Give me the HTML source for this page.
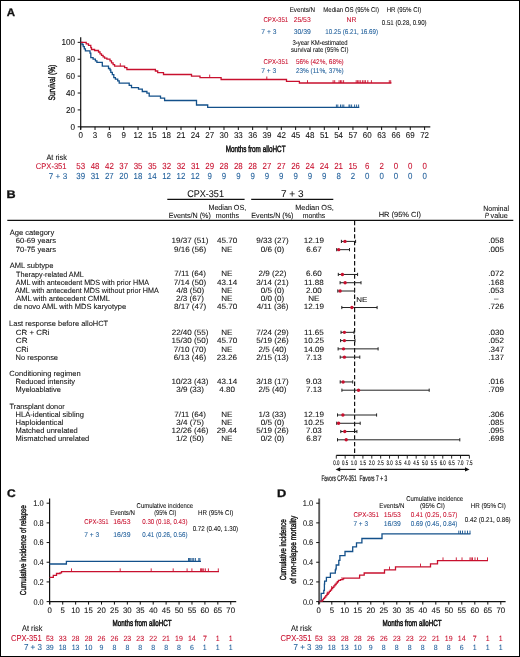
<!DOCTYPE html>
<html><head><meta charset="utf-8"><style>
html,body{margin:0;padding:0;background:#fff;}
#fig{position:relative;width:520px;height:657px;box-sizing:border-box;border:1px solid #000;background:#fff;overflow:hidden;}
svg{position:absolute;left:-1px;top:-1px;will-change:transform;}
text{font-family:"Liberation Sans",sans-serif;stroke-width:0.08px;text-rendering:geometricPrecision;}
</style></head><body><div id="fig">
<svg width="520" height="657" viewBox="0 0 520 657">
<text x="6.81" y="16.1" font-size="11" fill="#111" stroke="#111" textLength="8.3" lengthAdjust="spacingAndGlyphs" font-weight="bold" style="stroke-width:0.3px">A</text>
<text x="289.7" y="12.3" font-size="7.01" fill="#111" stroke="#111" textLength="25.42" lengthAdjust="spacingAndGlyphs">Events/N</text>
<text x="323.32" y="12.3" font-size="7.01" fill="#111" stroke="#111" textLength="55.75" lengthAdjust="spacingAndGlyphs">Median OS (95% CI)</text>
<text x="386.71" y="12.2" font-size="7.01" fill="#111" stroke="#111" textLength="34.67" lengthAdjust="spacingAndGlyphs">HR (95% CI)</text>
<text x="263.39" y="21.8" font-size="7.01" fill="#c8102e" stroke="#c8102e" textLength="24.9" lengthAdjust="spacingAndGlyphs">CPX-351</text>
<text x="293.66" y="21.8" font-size="7.01" fill="#c8102e" stroke="#c8102e" textLength="17.03" lengthAdjust="spacingAndGlyphs">25/53</text>
<text x="346.45" y="21.8" font-size="7.01" fill="#c8102e" stroke="#c8102e" textLength="9.89" lengthAdjust="spacingAndGlyphs">NR</text>
<text x="381.86" y="25.1" font-size="7.01" fill="#111" stroke="#111" textLength="44.73" lengthAdjust="spacingAndGlyphs">0.51 (0.28, 0.90)</text>
<text x="261.36" y="34.3" font-size="7.01" fill="#23619c" stroke="#23619c" textLength="15.12" lengthAdjust="spacingAndGlyphs">7 + 3</text>
<text x="293.73" y="34.3" font-size="7.01" fill="#23619c" stroke="#23619c" textLength="17.2" lengthAdjust="spacingAndGlyphs">30/39</text>
<text x="325.33" y="34.3" font-size="7.01" fill="#23619c" stroke="#23619c" textLength="52.75" lengthAdjust="spacingAndGlyphs">10.25 (6.21, 16.69)</text>
<text x="292.46" y="45.1" font-size="7.01" fill="#111" stroke="#111" textLength="55.03" lengthAdjust="spacingAndGlyphs">3-year KM-estimated</text>
<text x="291.12" y="51.8" font-size="7.01" fill="#111" stroke="#111" textLength="57.26" lengthAdjust="spacingAndGlyphs">survival rate (95% CI)</text>
<text x="263.49" y="64.3" font-size="7.01" fill="#c8102e" stroke="#c8102e" textLength="24.8" lengthAdjust="spacingAndGlyphs">CPX-351</text>
<text x="295.95" y="64.3" font-size="7.01" fill="#c8102e" stroke="#c8102e" textLength="47.76" lengthAdjust="spacingAndGlyphs">56% (42%, 68%)</text>
<text x="261.16" y="72.6" font-size="7.01" fill="#23619c" stroke="#23619c" textLength="15.12" lengthAdjust="spacingAndGlyphs">7 + 3</text>
<text x="295.88" y="72.6" font-size="7.01" fill="#23619c" stroke="#23619c" textLength="47.84" lengthAdjust="spacingAndGlyphs">23% (11%, 37%)</text>
<line x1="80.7" y1="37.3" x2="80.7" y2="129.6" stroke="#111" stroke-width="1.2"/>
<line x1="80.1" y1="126.8" x2="430.3" y2="126.8" stroke="#111" stroke-width="1.2"/>
<line x1="77.7" y1="126.8" x2="80.7" y2="126.8" stroke="#111" stroke-width="1"/>
<text x="70.56" y="129.8" font-size="8.6" fill="#111" stroke="#111" textLength="4.53" lengthAdjust="spacingAndGlyphs">0</text>
<line x1="77.7" y1="109.91" x2="80.7" y2="109.91" stroke="#111" stroke-width="1"/>
<text x="66.04" y="112.91" font-size="8.6" fill="#111" stroke="#111" textLength="9.07" lengthAdjust="spacingAndGlyphs">20</text>
<line x1="77.7" y1="93.02" x2="80.7" y2="93.02" stroke="#111" stroke-width="1"/>
<text x="66.04" y="96.02" font-size="8.6" fill="#111" stroke="#111" textLength="9.07" lengthAdjust="spacingAndGlyphs">40</text>
<line x1="77.7" y1="76.13" x2="80.7" y2="76.13" stroke="#111" stroke-width="1"/>
<text x="66.04" y="79.13" font-size="8.6" fill="#111" stroke="#111" textLength="9.07" lengthAdjust="spacingAndGlyphs">60</text>
<line x1="77.7" y1="59.24" x2="80.7" y2="59.24" stroke="#111" stroke-width="1"/>
<text x="66.04" y="62.24" font-size="8.6" fill="#111" stroke="#111" textLength="9.07" lengthAdjust="spacingAndGlyphs">80</text>
<line x1="77.7" y1="42.35" x2="80.7" y2="42.35" stroke="#111" stroke-width="1"/>
<text x="61.52" y="45.35" font-size="8.6" fill="#111" stroke="#111" textLength="13.6" lengthAdjust="spacingAndGlyphs">100</text>
<line x1="80.7" y1="126.8" x2="80.7" y2="130" stroke="#111" stroke-width="1"/>
<text x="78.46" y="138.4" font-size="8.5" fill="#111" stroke="#111" textLength="4.45" lengthAdjust="spacingAndGlyphs">0</text>
<line x1="95.03" y1="126.8" x2="95.03" y2="130" stroke="#111" stroke-width="1"/>
<text x="92.81" y="138.4" font-size="8.5" fill="#111" stroke="#111" textLength="4.45" lengthAdjust="spacingAndGlyphs">3</text>
<line x1="109.36" y1="126.8" x2="109.36" y2="130" stroke="#111" stroke-width="1"/>
<text x="107.1" y="138.4" font-size="8.5" fill="#111" stroke="#111" textLength="4.45" lengthAdjust="spacingAndGlyphs">6</text>
<line x1="123.69" y1="126.8" x2="123.69" y2="130" stroke="#111" stroke-width="1"/>
<text x="121.47" y="138.4" font-size="8.5" fill="#111" stroke="#111" textLength="4.45" lengthAdjust="spacingAndGlyphs">9</text>
<line x1="138.02" y1="126.8" x2="138.02" y2="130" stroke="#111" stroke-width="1"/>
<text x="133.48" y="138.4" font-size="8.5" fill="#111" stroke="#111" textLength="8.9" lengthAdjust="spacingAndGlyphs">12</text>
<line x1="152.35" y1="126.8" x2="152.35" y2="130" stroke="#111" stroke-width="1"/>
<text x="147.77" y="138.4" font-size="8.5" fill="#111" stroke="#111" textLength="8.9" lengthAdjust="spacingAndGlyphs">15</text>
<line x1="166.68" y1="126.8" x2="166.68" y2="130" stroke="#111" stroke-width="1"/>
<text x="162.1" y="138.4" font-size="8.5" fill="#111" stroke="#111" textLength="8.9" lengthAdjust="spacingAndGlyphs">18</text>
<line x1="181" y1="126.8" x2="181" y2="130" stroke="#111" stroke-width="1"/>
<text x="176.54" y="138.4" font-size="8.5" fill="#111" stroke="#111" textLength="8.9" lengthAdjust="spacingAndGlyphs">21</text>
<line x1="195.33" y1="126.8" x2="195.33" y2="130" stroke="#111" stroke-width="1"/>
<text x="190.81" y="138.4" font-size="8.5" fill="#111" stroke="#111" textLength="8.9" lengthAdjust="spacingAndGlyphs">24</text>
<line x1="209.66" y1="126.8" x2="209.66" y2="130" stroke="#111" stroke-width="1"/>
<text x="205.22" y="138.4" font-size="8.5" fill="#111" stroke="#111" textLength="8.9" lengthAdjust="spacingAndGlyphs">27</text>
<line x1="223.99" y1="126.8" x2="223.99" y2="130" stroke="#111" stroke-width="1"/>
<text x="219.53" y="138.4" font-size="8.5" fill="#111" stroke="#111" textLength="8.9" lengthAdjust="spacingAndGlyphs">30</text>
<line x1="238.32" y1="126.8" x2="238.32" y2="130" stroke="#111" stroke-width="1"/>
<text x="233.88" y="138.4" font-size="8.5" fill="#111" stroke="#111" textLength="8.9" lengthAdjust="spacingAndGlyphs">33</text>
<line x1="252.65" y1="126.8" x2="252.65" y2="130" stroke="#111" stroke-width="1"/>
<text x="248.21" y="138.4" font-size="8.5" fill="#111" stroke="#111" textLength="8.9" lengthAdjust="spacingAndGlyphs">36</text>
<line x1="266.98" y1="126.8" x2="266.98" y2="130" stroke="#111" stroke-width="1"/>
<text x="262.56" y="138.4" font-size="8.5" fill="#111" stroke="#111" textLength="8.9" lengthAdjust="spacingAndGlyphs">39</text>
<line x1="281.31" y1="126.8" x2="281.31" y2="130" stroke="#111" stroke-width="1"/>
<text x="276.99" y="138.4" font-size="8.5" fill="#111" stroke="#111" textLength="8.9" lengthAdjust="spacingAndGlyphs">42</text>
<line x1="295.64" y1="126.8" x2="295.64" y2="130" stroke="#111" stroke-width="1"/>
<text x="291.28" y="138.4" font-size="8.5" fill="#111" stroke="#111" textLength="8.9" lengthAdjust="spacingAndGlyphs">45</text>
<line x1="309.97" y1="126.8" x2="309.97" y2="130" stroke="#111" stroke-width="1"/>
<text x="305.61" y="138.4" font-size="8.5" fill="#111" stroke="#111" textLength="8.9" lengthAdjust="spacingAndGlyphs">48</text>
<line x1="324.3" y1="126.8" x2="324.3" y2="130" stroke="#111" stroke-width="1"/>
<text x="319.88" y="138.4" font-size="8.5" fill="#111" stroke="#111" textLength="8.9" lengthAdjust="spacingAndGlyphs">51</text>
<line x1="338.62" y1="126.8" x2="338.62" y2="130" stroke="#111" stroke-width="1"/>
<text x="334.14" y="138.4" font-size="8.5" fill="#111" stroke="#111" textLength="8.9" lengthAdjust="spacingAndGlyphs">54</text>
<line x1="352.95" y1="126.8" x2="352.95" y2="130" stroke="#111" stroke-width="1"/>
<text x="348.55" y="138.4" font-size="8.5" fill="#111" stroke="#111" textLength="8.9" lengthAdjust="spacingAndGlyphs">57</text>
<line x1="367.28" y1="126.8" x2="367.28" y2="130" stroke="#111" stroke-width="1"/>
<text x="362.78" y="138.4" font-size="8.5" fill="#111" stroke="#111" textLength="8.9" lengthAdjust="spacingAndGlyphs">60</text>
<line x1="381.61" y1="126.8" x2="381.61" y2="130" stroke="#111" stroke-width="1"/>
<text x="377.13" y="138.4" font-size="8.5" fill="#111" stroke="#111" textLength="8.9" lengthAdjust="spacingAndGlyphs">63</text>
<line x1="395.94" y1="126.8" x2="395.94" y2="130" stroke="#111" stroke-width="1"/>
<text x="391.46" y="138.4" font-size="8.5" fill="#111" stroke="#111" textLength="8.9" lengthAdjust="spacingAndGlyphs">66</text>
<line x1="410.27" y1="126.8" x2="410.27" y2="130" stroke="#111" stroke-width="1"/>
<text x="405.81" y="138.4" font-size="8.5" fill="#111" stroke="#111" textLength="8.9" lengthAdjust="spacingAndGlyphs">69</text>
<line x1="424.6" y1="126.8" x2="424.6" y2="130" stroke="#111" stroke-width="1"/>
<text x="420.16" y="138.4" font-size="8.5" fill="#111" stroke="#111" textLength="8.9" lengthAdjust="spacingAndGlyphs">72</text>
<text x="225.69" y="152.1" font-size="9" fill="#111" stroke="#111" textLength="59.85" lengthAdjust="spacingAndGlyphs" style="stroke-width:0.5px">Months from alloHCT</text>
<text transform="translate(54.9 82.6) rotate(-90)" x="-17.8" y="0" font-size="9.4" fill="#111" stroke="#111" style="stroke-width:0.4px" textLength="35.73" lengthAdjust="spacingAndGlyphs">Survival (%)</text>
<path d="M80.7,42.3H82V44.5H83.2V46.7H84.3V48.8H85.4V50.8H90V53.1H90.8V57.7H93.1V59.2H95.4V60.8H96.9V62.3H102.3V66.2H108.5V68.5H110V70H110.8V72.3H112.3V74.6H113.8V77.7H115.4V79.2H117.7V80.8H119.2V83.1H129.2V85.4H131.5V87.7H138.5V89.2H142.3V91.5H146.9V93.1H149.2V96.2H160.5V98.1H164.6V100.5H196.5V105H207.7V107.3H359.3" fill="none" stroke="#13508a" stroke-width="1.3"/>
<path d="M80.7,42.3H86.2V43.8H88.5V45.4H90.8V47.7H91.5V49.5H94.6V50.5H98.5V52H100V53.8H101.5V55.4H103.1V56.9H104.6V58.2H106.9V59.2H110V60.8H111.5V62.8H113.1V64.6H114.6V66.2H124.6V67.7H126.9V69.5H155.4V71H157.7V72.7H163.5V74.5H191.5V76.1H200V77.6H221.1V79.5H286.5V81.3H299.4V83H391.4" fill="none" stroke="#c8102e" stroke-width="1.3"/>
<path d="M120.3,66.2V63.2" fill="none" stroke="#c8102e" stroke-width="0.9"/>
<path d="M209.7,77.6V74.6" fill="none" stroke="#c8102e" stroke-width="0.9"/>
<path d="M266.8,79.5V76.5" fill="none" stroke="#c8102e" stroke-width="0.9"/>
<path d="M307.5,83V80.2M333.1,83V80.2M334.7,83V80.2M339.1,83V80.2M340.5,83V80.2M341.8,83V80.2M343.6,83V80.2M356.2,83V80.2M357.6,83V80.2M358.9,83V80.2M360.3,83V80.2M362.4,83V80.2M364,83V80.2M365.4,83V80.2M367.8,83V80.2M371.4,83V80.2M389.3,83V80.2M390.7,83V80.2" fill="none" stroke="#c8102e" stroke-width="0.9"/>
<path d="M336.4,107.3V104.5M337.8,107.3V104.5M340.5,107.3V104.5M342.2,107.3V104.5M343.8,107.3V104.5M349,107.3V104.5M349.9,107.3V104.5M351.6,107.3V104.5M354.6,107.3V104.5M356.6,107.3V104.5M358.6,107.3V104.5" fill="none" stroke="#13508a" stroke-width="0.9"/>
<text x="46.4" y="159.8" font-size="8.06" fill="#111" stroke="#111" textLength="20.48" lengthAdjust="spacingAndGlyphs">At risk</text>
<text x="35.82" y="169.3" font-size="8.36" fill="#c8102e" stroke="#c8102e" textLength="30.74" lengthAdjust="spacingAndGlyphs">CPX-351</text>
<text x="48.79" y="178.6" font-size="8.36" fill="#23619c" stroke="#23619c" textLength="18.45" lengthAdjust="spacingAndGlyphs">7 + 3</text>
<text x="76.32" y="169" font-size="8.85" fill="#c8102e" stroke="#c8102e" textLength="8.79" lengthAdjust="spacingAndGlyphs">53</text>
<text x="76.34" y="178.8" font-size="8.85" fill="#23619c" stroke="#23619c" textLength="8.79" lengthAdjust="spacingAndGlyphs">39</text>
<text x="90.72" y="169" font-size="8.85" fill="#c8102e" stroke="#c8102e" textLength="8.79" lengthAdjust="spacingAndGlyphs">48</text>
<text x="90.66" y="178.8" font-size="8.85" fill="#23619c" stroke="#23619c" textLength="8.79" lengthAdjust="spacingAndGlyphs">31</text>
<text x="105.09" y="169" font-size="8.85" fill="#c8102e" stroke="#c8102e" textLength="8.79" lengthAdjust="spacingAndGlyphs">42</text>
<text x="104.97" y="178.8" font-size="8.85" fill="#23619c" stroke="#23619c" textLength="8.79" lengthAdjust="spacingAndGlyphs">27</text>
<text x="119.34" y="169" font-size="8.85" fill="#c8102e" stroke="#c8102e" textLength="8.79" lengthAdjust="spacingAndGlyphs">37</text>
<text x="119.24" y="178.8" font-size="8.85" fill="#23619c" stroke="#23619c" textLength="8.79" lengthAdjust="spacingAndGlyphs">20</text>
<text x="133.63" y="169" font-size="8.85" fill="#c8102e" stroke="#c8102e" textLength="8.79" lengthAdjust="spacingAndGlyphs">35</text>
<text x="133.49" y="178.8" font-size="8.85" fill="#23619c" stroke="#23619c" textLength="8.79" lengthAdjust="spacingAndGlyphs">18</text>
<text x="147.96" y="169" font-size="8.85" fill="#c8102e" stroke="#c8102e" textLength="8.79" lengthAdjust="spacingAndGlyphs">35</text>
<text x="147.78" y="178.8" font-size="8.85" fill="#23619c" stroke="#23619c" textLength="8.79" lengthAdjust="spacingAndGlyphs">14</text>
<text x="162.33" y="169" font-size="8.85" fill="#c8102e" stroke="#c8102e" textLength="8.79" lengthAdjust="spacingAndGlyphs">32</text>
<text x="162.19" y="178.8" font-size="8.85" fill="#23619c" stroke="#23619c" textLength="8.79" lengthAdjust="spacingAndGlyphs">12</text>
<text x="176.66" y="169" font-size="8.85" fill="#c8102e" stroke="#c8102e" textLength="8.79" lengthAdjust="spacingAndGlyphs">32</text>
<text x="176.52" y="178.8" font-size="8.85" fill="#23619c" stroke="#23619c" textLength="8.79" lengthAdjust="spacingAndGlyphs">12</text>
<text x="190.97" y="169" font-size="8.85" fill="#c8102e" stroke="#c8102e" textLength="8.79" lengthAdjust="spacingAndGlyphs">31</text>
<text x="190.85" y="178.8" font-size="8.85" fill="#23619c" stroke="#23619c" textLength="8.79" lengthAdjust="spacingAndGlyphs">12</text>
<text x="205.26" y="169" font-size="8.85" fill="#c8102e" stroke="#c8102e" textLength="8.79" lengthAdjust="spacingAndGlyphs">29</text>
<text x="207.47" y="178.8" font-size="8.85" fill="#23619c" stroke="#23619c" textLength="4.39" lengthAdjust="spacingAndGlyphs">9</text>
<text x="219.57" y="169" font-size="8.85" fill="#c8102e" stroke="#c8102e" textLength="8.79" lengthAdjust="spacingAndGlyphs">28</text>
<text x="221.8" y="178.8" font-size="8.85" fill="#23619c" stroke="#23619c" textLength="4.39" lengthAdjust="spacingAndGlyphs">9</text>
<text x="233.9" y="169" font-size="8.85" fill="#c8102e" stroke="#c8102e" textLength="8.79" lengthAdjust="spacingAndGlyphs">28</text>
<text x="236.13" y="178.8" font-size="8.85" fill="#23619c" stroke="#23619c" textLength="4.39" lengthAdjust="spacingAndGlyphs">9</text>
<text x="248.23" y="169" font-size="8.85" fill="#c8102e" stroke="#c8102e" textLength="8.79" lengthAdjust="spacingAndGlyphs">28</text>
<text x="250.46" y="178.8" font-size="8.85" fill="#23619c" stroke="#23619c" textLength="4.39" lengthAdjust="spacingAndGlyphs">9</text>
<text x="262.59" y="169" font-size="8.85" fill="#c8102e" stroke="#c8102e" textLength="8.79" lengthAdjust="spacingAndGlyphs">27</text>
<text x="264.79" y="178.8" font-size="8.85" fill="#23619c" stroke="#23619c" textLength="4.39" lengthAdjust="spacingAndGlyphs">9</text>
<text x="276.92" y="169" font-size="8.85" fill="#c8102e" stroke="#c8102e" textLength="8.79" lengthAdjust="spacingAndGlyphs">27</text>
<text x="279.12" y="178.8" font-size="8.85" fill="#23619c" stroke="#23619c" textLength="4.39" lengthAdjust="spacingAndGlyphs">9</text>
<text x="291.21" y="169" font-size="8.85" fill="#c8102e" stroke="#c8102e" textLength="8.79" lengthAdjust="spacingAndGlyphs">26</text>
<text x="293.45" y="178.8" font-size="8.85" fill="#23619c" stroke="#23619c" textLength="4.39" lengthAdjust="spacingAndGlyphs">9</text>
<text x="305.5" y="169" font-size="8.85" fill="#c8102e" stroke="#c8102e" textLength="8.79" lengthAdjust="spacingAndGlyphs">24</text>
<text x="307.77" y="178.8" font-size="8.85" fill="#23619c" stroke="#23619c" textLength="4.39" lengthAdjust="spacingAndGlyphs">9</text>
<text x="319.83" y="169" font-size="8.85" fill="#c8102e" stroke="#c8102e" textLength="8.79" lengthAdjust="spacingAndGlyphs">24</text>
<text x="322.1" y="178.8" font-size="8.85" fill="#23619c" stroke="#23619c" textLength="4.39" lengthAdjust="spacingAndGlyphs">9</text>
<text x="334.22" y="169" font-size="8.85" fill="#c8102e" stroke="#c8102e" textLength="8.79" lengthAdjust="spacingAndGlyphs">21</text>
<text x="336.41" y="178.8" font-size="8.85" fill="#23619c" stroke="#23619c" textLength="4.39" lengthAdjust="spacingAndGlyphs">8</text>
<text x="348.43" y="169" font-size="8.85" fill="#c8102e" stroke="#c8102e" textLength="8.79" lengthAdjust="spacingAndGlyphs">15</text>
<text x="350.76" y="178.8" font-size="8.85" fill="#23619c" stroke="#23619c" textLength="4.39" lengthAdjust="spacingAndGlyphs">2</text>
<text x="365.05" y="169" font-size="8.85" fill="#c8102e" stroke="#c8102e" textLength="4.39" lengthAdjust="spacingAndGlyphs">6</text>
<text x="365.07" y="178.8" font-size="8.85" fill="#23619c" stroke="#23619c" textLength="4.39" lengthAdjust="spacingAndGlyphs">0</text>
<text x="379.42" y="169" font-size="8.85" fill="#c8102e" stroke="#c8102e" textLength="4.39" lengthAdjust="spacingAndGlyphs">2</text>
<text x="379.4" y="178.8" font-size="8.85" fill="#23619c" stroke="#23619c" textLength="4.39" lengthAdjust="spacingAndGlyphs">0</text>
<text x="393.73" y="169" font-size="8.85" fill="#c8102e" stroke="#c8102e" textLength="4.39" lengthAdjust="spacingAndGlyphs">0</text>
<text x="393.73" y="178.8" font-size="8.85" fill="#23619c" stroke="#23619c" textLength="4.39" lengthAdjust="spacingAndGlyphs">0</text>
<text x="408.06" y="169" font-size="8.85" fill="#c8102e" stroke="#c8102e" textLength="4.39" lengthAdjust="spacingAndGlyphs">0</text>
<text x="408.06" y="178.8" font-size="8.85" fill="#23619c" stroke="#23619c" textLength="4.39" lengthAdjust="spacingAndGlyphs">0</text>
<text x="422.39" y="169" font-size="8.85" fill="#c8102e" stroke="#c8102e" textLength="4.39" lengthAdjust="spacingAndGlyphs">0</text>
<text x="422.39" y="178.8" font-size="8.85" fill="#23619c" stroke="#23619c" textLength="4.39" lengthAdjust="spacingAndGlyphs">0</text>
<text x="6.48" y="197.7" font-size="11" fill="#111" stroke="#111" textLength="9.12" lengthAdjust="spacingAndGlyphs" font-weight="bold" style="stroke-width:0.3px">B</text>
<text x="187.15" y="196.9" font-size="9.72" fill="#111" stroke="#111" textLength="36.79" lengthAdjust="spacingAndGlyphs">CPX-351</text>
<text x="281" y="196.9" font-size="9.72" fill="#111" stroke="#111" textLength="22.52" lengthAdjust="spacingAndGlyphs">7 + 3</text>
<line x1="167.3" y1="199.3" x2="244.6" y2="199.3" stroke="#111" stroke-width="1.2"/>
<line x1="251.2" y1="199.3" x2="333.3" y2="199.3" stroke="#111" stroke-width="1.2"/>
<text x="208.43" y="209.9" font-size="7.45" fill="#111" stroke="#111" textLength="37.78" lengthAdjust="spacingAndGlyphs">Median OS,</text>
<text x="295.21" y="209.9" font-size="7.45" fill="#111" stroke="#111" textLength="38.71" lengthAdjust="spacingAndGlyphs">Median OS,</text>
<text x="168.63" y="217.9" font-size="7.45" fill="#111" stroke="#111" textLength="42.24" lengthAdjust="spacingAndGlyphs">Events/N (%)</text>
<text x="215.74" y="217.9" font-size="7.45" fill="#111" stroke="#111" textLength="23.31" lengthAdjust="spacingAndGlyphs">months</text>
<text x="251.33" y="217.9" font-size="7.45" fill="#111" stroke="#111" textLength="42.04" lengthAdjust="spacingAndGlyphs">Events/N (%)</text>
<text x="302.65" y="217.9" font-size="7.45" fill="#111" stroke="#111" textLength="22.58" lengthAdjust="spacingAndGlyphs">months</text>
<text x="378.7" y="217.4" font-size="7.45" fill="#111" stroke="#111" textLength="42.37" lengthAdjust="spacingAndGlyphs">HR (95% CI)</text>
<text x="483.24" y="210.8" font-size="7.45" fill="#111" stroke="#111" textLength="25.74" lengthAdjust="spacingAndGlyphs">Nominal</text>
<text x="484.81" y="217.6" font-size="7.45" fill="#111" stroke="#111" textLength="4.24" lengthAdjust="spacingAndGlyphs" font-style="italic">P</text>
<text x="490.56" y="217.6" font-size="7.45" fill="#111" stroke="#111" textLength="17.27" lengthAdjust="spacingAndGlyphs">value</text>
<line x1="7.3" y1="220.3" x2="513.3" y2="220.3" stroke="#111" stroke-width="1.2"/>
<text x="9.7" y="234.5" font-size="7.49" fill="#111" stroke="#111" textLength="44.48" lengthAdjust="spacingAndGlyphs">Age category</text>
<text x="15.82" y="243.3" font-size="7.49" fill="#111" stroke="#111" textLength="40.26" lengthAdjust="spacingAndGlyphs">60-69 years</text>
<text x="15.82" y="251.8" font-size="7.49" fill="#111" stroke="#111" textLength="40.26" lengthAdjust="spacingAndGlyphs">70-75 years</text>
<text x="9.7" y="268.4" font-size="7.49" fill="#111" stroke="#111" textLength="43.74" lengthAdjust="spacingAndGlyphs">AML subtype</text>
<text x="16.06" y="276.5" font-size="7.49" fill="#111" stroke="#111" textLength="67.69" lengthAdjust="spacingAndGlyphs">Therapy-related AML</text>
<text x="15.7" y="284.8" font-size="7.49" fill="#111" stroke="#111" textLength="133.21" lengthAdjust="spacingAndGlyphs">AML with antecedent MDS with prior HMA</text>
<text x="15" y="293" font-size="7.49" fill="#111" stroke="#111" textLength="143.81" lengthAdjust="spacingAndGlyphs">AML with antecedent MDS without prior HMA</text>
<text x="16.2" y="301" font-size="7.49" fill="#111" stroke="#111" textLength="93.62" lengthAdjust="spacingAndGlyphs">AML with antecedent CMML</text>
<text x="13.5" y="309.35" font-size="7.49" fill="#111" stroke="#111" textLength="112.64" lengthAdjust="spacingAndGlyphs">de novo AML with MDS karyotype</text>
<text x="9.1" y="326.3" font-size="7.49" fill="#111" stroke="#111" textLength="99.05" lengthAdjust="spacingAndGlyphs">Last response before alloHCT</text>
<text x="15.8" y="335.2" font-size="7.49" fill="#111" stroke="#111" textLength="33.61" lengthAdjust="spacingAndGlyphs">CR + CRi</text>
<text x="15.79" y="343.45" font-size="7.49" fill="#111" stroke="#111" textLength="11.81" lengthAdjust="spacingAndGlyphs">CR</text>
<text x="15.82" y="351.7" font-size="7.49" fill="#111" stroke="#111" textLength="12.69" lengthAdjust="spacingAndGlyphs">CRi</text>
<text x="15.6" y="359.95" font-size="7.49" fill="#111" stroke="#111" textLength="42.44" lengthAdjust="spacingAndGlyphs">No response</text>
<text x="9.32" y="375.6" font-size="7.49" fill="#111" stroke="#111" textLength="71.47" lengthAdjust="spacingAndGlyphs">Conditioning regimen</text>
<text x="15.6" y="384" font-size="7.49" fill="#111" stroke="#111" textLength="59.39" lengthAdjust="spacingAndGlyphs">Reduced intensity</text>
<text x="15.61" y="392" font-size="7.49" fill="#111" stroke="#111" textLength="45.22" lengthAdjust="spacingAndGlyphs">Myeloablative</text>
<text x="9.55" y="408.6" font-size="7.49" fill="#111" stroke="#111" textLength="55.18" lengthAdjust="spacingAndGlyphs">Transplant donor</text>
<text x="15.6" y="416.8" font-size="7.49" fill="#111" stroke="#111" textLength="68.4" lengthAdjust="spacingAndGlyphs">HLA-identical sibling</text>
<text x="15.59" y="424.9" font-size="7.49" fill="#111" stroke="#111" textLength="47.72" lengthAdjust="spacingAndGlyphs">Haploidentical</text>
<text x="15.6" y="433.1" font-size="7.49" fill="#111" stroke="#111" textLength="62.21" lengthAdjust="spacingAndGlyphs">Matched unrelated</text>
<text x="15.6" y="441.35" font-size="7.49" fill="#111" stroke="#111" textLength="73.68" lengthAdjust="spacingAndGlyphs">Mismatched unrelated</text>
<text x="171.54" y="243.2" font-size="7.7" fill="#111" stroke="#111" textLength="36.82" lengthAdjust="spacingAndGlyphs">19/37 (51)</text>
<text x="216.96" y="243.2" font-size="7.7" fill="#111" stroke="#111" textLength="20.21" lengthAdjust="spacingAndGlyphs">45.70</text>
<text x="256.31" y="243.2" font-size="7.7" fill="#111" stroke="#111" textLength="32.33" lengthAdjust="spacingAndGlyphs">9/33 (27)</text>
<text x="303.78" y="243.2" font-size="7.7" fill="#111" stroke="#111" textLength="20.21" lengthAdjust="spacingAndGlyphs">12.19</text>
<text x="488.24" y="243.2" font-size="7.7" fill="#111" stroke="#111" textLength="15.72" lengthAdjust="spacingAndGlyphs">.058</text>
<text x="173.91" y="251.7" font-size="7.7" fill="#111" stroke="#111" textLength="32.33" lengthAdjust="spacingAndGlyphs">9/16 (56)</text>
<text x="221.25" y="251.7" font-size="7.7" fill="#111" stroke="#111" textLength="11.22" lengthAdjust="spacingAndGlyphs">NE</text>
<text x="260.83" y="251.7" font-size="7.7" fill="#111" stroke="#111" textLength="23.34" lengthAdjust="spacingAndGlyphs">0/6 (0)</text>
<text x="306.15" y="251.7" font-size="7.7" fill="#111" stroke="#111" textLength="15.72" lengthAdjust="spacingAndGlyphs">6.67</text>
<text x="488.24" y="251.7" font-size="7.7" fill="#111" stroke="#111" textLength="15.72" lengthAdjust="spacingAndGlyphs">.005</text>
<text x="174.19" y="276.4" font-size="7.7" fill="#111" stroke="#111" textLength="31.73" lengthAdjust="spacingAndGlyphs">7/11 (64)</text>
<text x="221.25" y="276.4" font-size="7.7" fill="#111" stroke="#111" textLength="11.22" lengthAdjust="spacingAndGlyphs">NE</text>
<text x="258.53" y="276.4" font-size="7.7" fill="#111" stroke="#111" textLength="27.84" lengthAdjust="spacingAndGlyphs">2/9 (22)</text>
<text x="306.08" y="276.4" font-size="7.7" fill="#111" stroke="#111" textLength="15.72" lengthAdjust="spacingAndGlyphs">6.60</text>
<text x="488.28" y="276.4" font-size="7.7" fill="#111" stroke="#111" textLength="15.72" lengthAdjust="spacingAndGlyphs">.072</text>
<text x="173.89" y="284.7" font-size="7.7" fill="#111" stroke="#111" textLength="32.33" lengthAdjust="spacingAndGlyphs">7/14 (50)</text>
<text x="216.94" y="284.7" font-size="7.7" fill="#111" stroke="#111" textLength="20.21" lengthAdjust="spacingAndGlyphs">43.14</text>
<text x="256.33" y="284.7" font-size="7.7" fill="#111" stroke="#111" textLength="32.33" lengthAdjust="spacingAndGlyphs">3/14 (21)</text>
<text x="304.07" y="284.7" font-size="7.7" fill="#111" stroke="#111" textLength="19.61" lengthAdjust="spacingAndGlyphs">11.88</text>
<text x="488.24" y="284.7" font-size="7.7" fill="#111" stroke="#111" textLength="15.72" lengthAdjust="spacingAndGlyphs">.168</text>
<text x="176.25" y="292.9" font-size="7.7" fill="#111" stroke="#111" textLength="27.84" lengthAdjust="spacingAndGlyphs">4/8 (50)</text>
<text x="221.25" y="292.9" font-size="7.7" fill="#111" stroke="#111" textLength="11.22" lengthAdjust="spacingAndGlyphs">NE</text>
<text x="260.83" y="292.9" font-size="7.7" fill="#111" stroke="#111" textLength="23.34" lengthAdjust="spacingAndGlyphs">0/5 (0)</text>
<text x="306.08" y="292.9" font-size="7.7" fill="#111" stroke="#111" textLength="15.72" lengthAdjust="spacingAndGlyphs">2.00</text>
<text x="488.24" y="292.9" font-size="7.7" fill="#111" stroke="#111" textLength="15.72" lengthAdjust="spacingAndGlyphs">.053</text>
<text x="176.13" y="300.9" font-size="7.7" fill="#111" stroke="#111" textLength="27.84" lengthAdjust="spacingAndGlyphs">2/3 (67)</text>
<text x="221.25" y="300.9" font-size="7.7" fill="#111" stroke="#111" textLength="11.22" lengthAdjust="spacingAndGlyphs">NE</text>
<text x="260.83" y="300.9" font-size="7.7" fill="#111" stroke="#111" textLength="23.34" lengthAdjust="spacingAndGlyphs">0/0 (0)</text>
<text x="308.25" y="300.9" font-size="7.7" fill="#111" stroke="#111" textLength="11.22" lengthAdjust="spacingAndGlyphs">NE</text>
<text x="494.06" y="300.9" font-size="7.7" fill="#111" stroke="#111" textLength="4.49" lengthAdjust="spacingAndGlyphs">–</text>
<text x="173.91" y="309.25" font-size="7.7" fill="#111" stroke="#111" textLength="32.33" lengthAdjust="spacingAndGlyphs">8/17 (47)</text>
<text x="216.96" y="309.25" font-size="7.7" fill="#111" stroke="#111" textLength="20.21" lengthAdjust="spacingAndGlyphs">45.70</text>
<text x="256.71" y="309.25" font-size="7.7" fill="#111" stroke="#111" textLength="31.73" lengthAdjust="spacingAndGlyphs">4/11 (36)</text>
<text x="303.78" y="309.25" font-size="7.7" fill="#111" stroke="#111" textLength="20.21" lengthAdjust="spacingAndGlyphs">12.19</text>
<text x="488.24" y="309.25" font-size="7.7" fill="#111" stroke="#111" textLength="15.72" lengthAdjust="spacingAndGlyphs">.726</text>
<text x="171.65" y="335.1" font-size="7.7" fill="#111" stroke="#111" textLength="36.82" lengthAdjust="spacingAndGlyphs">22/40 (55)</text>
<text x="221.25" y="335.1" font-size="7.7" fill="#111" stroke="#111" textLength="11.22" lengthAdjust="spacingAndGlyphs">NE</text>
<text x="256.29" y="335.1" font-size="7.7" fill="#111" stroke="#111" textLength="32.33" lengthAdjust="spacingAndGlyphs">7/24 (29)</text>
<text x="304.07" y="335.1" font-size="7.7" fill="#111" stroke="#111" textLength="19.61" lengthAdjust="spacingAndGlyphs">11.65</text>
<text x="488.22" y="335.1" font-size="7.7" fill="#111" stroke="#111" textLength="15.72" lengthAdjust="spacingAndGlyphs">.030</text>
<text x="171.54" y="343.35" font-size="7.7" fill="#111" stroke="#111" textLength="36.82" lengthAdjust="spacingAndGlyphs">15/30 (50)</text>
<text x="216.96" y="343.35" font-size="7.7" fill="#111" stroke="#111" textLength="20.21" lengthAdjust="spacingAndGlyphs">45.70</text>
<text x="256.33" y="343.35" font-size="7.7" fill="#111" stroke="#111" textLength="32.33" lengthAdjust="spacingAndGlyphs">5/19 (26)</text>
<text x="303.76" y="343.35" font-size="7.7" fill="#111" stroke="#111" textLength="20.21" lengthAdjust="spacingAndGlyphs">10.25</text>
<text x="488.28" y="343.35" font-size="7.7" fill="#111" stroke="#111" textLength="15.72" lengthAdjust="spacingAndGlyphs">.052</text>
<text x="173.89" y="351.6" font-size="7.7" fill="#111" stroke="#111" textLength="32.33" lengthAdjust="spacingAndGlyphs">7/10 (70)</text>
<text x="221.25" y="351.6" font-size="7.7" fill="#111" stroke="#111" textLength="11.22" lengthAdjust="spacingAndGlyphs">NE</text>
<text x="258.53" y="351.6" font-size="7.7" fill="#111" stroke="#111" textLength="27.84" lengthAdjust="spacingAndGlyphs">2/5 (40)</text>
<text x="303.78" y="351.6" font-size="7.7" fill="#111" stroke="#111" textLength="20.21" lengthAdjust="spacingAndGlyphs">14.09</text>
<text x="488.28" y="351.6" font-size="7.7" fill="#111" stroke="#111" textLength="15.72" lengthAdjust="spacingAndGlyphs">.347</text>
<text x="173.89" y="359.85" font-size="7.7" fill="#111" stroke="#111" textLength="32.33" lengthAdjust="spacingAndGlyphs">6/13 (46)</text>
<text x="216.86" y="359.85" font-size="7.7" fill="#111" stroke="#111" textLength="20.21" lengthAdjust="spacingAndGlyphs">23.26</text>
<text x="256.29" y="359.85" font-size="7.7" fill="#111" stroke="#111" textLength="32.33" lengthAdjust="spacingAndGlyphs">2/15 (13)</text>
<text x="306.1" y="359.85" font-size="7.7" fill="#111" stroke="#111" textLength="15.72" lengthAdjust="spacingAndGlyphs">7.13</text>
<text x="488.28" y="359.85" font-size="7.7" fill="#111" stroke="#111" textLength="15.72" lengthAdjust="spacingAndGlyphs">.137</text>
<text x="171.54" y="383.9" font-size="7.7" fill="#111" stroke="#111" textLength="36.82" lengthAdjust="spacingAndGlyphs">10/23 (43)</text>
<text x="216.94" y="383.9" font-size="7.7" fill="#111" stroke="#111" textLength="20.21" lengthAdjust="spacingAndGlyphs">43.14</text>
<text x="256.33" y="383.9" font-size="7.7" fill="#111" stroke="#111" textLength="32.33" lengthAdjust="spacingAndGlyphs">3/18 (17)</text>
<text x="306.12" y="383.9" font-size="7.7" fill="#111" stroke="#111" textLength="15.72" lengthAdjust="spacingAndGlyphs">9.03</text>
<text x="488.24" y="383.9" font-size="7.7" fill="#111" stroke="#111" textLength="15.72" lengthAdjust="spacingAndGlyphs">.016</text>
<text x="176.17" y="391.9" font-size="7.7" fill="#111" stroke="#111" textLength="27.84" lengthAdjust="spacingAndGlyphs">3/9 (33)</text>
<text x="219.21" y="391.9" font-size="7.7" fill="#111" stroke="#111" textLength="15.72" lengthAdjust="spacingAndGlyphs">4.80</text>
<text x="258.53" y="391.9" font-size="7.7" fill="#111" stroke="#111" textLength="27.84" lengthAdjust="spacingAndGlyphs">2/5 (40)</text>
<text x="306.1" y="391.9" font-size="7.7" fill="#111" stroke="#111" textLength="15.72" lengthAdjust="spacingAndGlyphs">7.13</text>
<text x="488.26" y="391.9" font-size="7.7" fill="#111" stroke="#111" textLength="15.72" lengthAdjust="spacingAndGlyphs">.709</text>
<text x="174.19" y="416.7" font-size="7.7" fill="#111" stroke="#111" textLength="31.73" lengthAdjust="spacingAndGlyphs">7/11 (64)</text>
<text x="221.25" y="416.7" font-size="7.7" fill="#111" stroke="#111" textLength="11.22" lengthAdjust="spacingAndGlyphs">NE</text>
<text x="258.43" y="416.7" font-size="7.7" fill="#111" stroke="#111" textLength="27.84" lengthAdjust="spacingAndGlyphs">1/3 (33)</text>
<text x="303.78" y="416.7" font-size="7.7" fill="#111" stroke="#111" textLength="20.21" lengthAdjust="spacingAndGlyphs">12.19</text>
<text x="488.24" y="416.7" font-size="7.7" fill="#111" stroke="#111" textLength="15.72" lengthAdjust="spacingAndGlyphs">.306</text>
<text x="176.17" y="424.8" font-size="7.7" fill="#111" stroke="#111" textLength="27.84" lengthAdjust="spacingAndGlyphs">3/4 (75)</text>
<text x="221.25" y="424.8" font-size="7.7" fill="#111" stroke="#111" textLength="11.22" lengthAdjust="spacingAndGlyphs">NE</text>
<text x="260.83" y="424.8" font-size="7.7" fill="#111" stroke="#111" textLength="23.34" lengthAdjust="spacingAndGlyphs">0/5 (0)</text>
<text x="303.76" y="424.8" font-size="7.7" fill="#111" stroke="#111" textLength="20.21" lengthAdjust="spacingAndGlyphs">10.25</text>
<text x="488.24" y="424.8" font-size="7.7" fill="#111" stroke="#111" textLength="15.72" lengthAdjust="spacingAndGlyphs">.085</text>
<text x="171.54" y="433" font-size="7.7" fill="#111" stroke="#111" textLength="36.82" lengthAdjust="spacingAndGlyphs">12/26 (46)</text>
<text x="216.82" y="433" font-size="7.7" fill="#111" stroke="#111" textLength="20.21" lengthAdjust="spacingAndGlyphs">29.44</text>
<text x="256.33" y="433" font-size="7.7" fill="#111" stroke="#111" textLength="32.33" lengthAdjust="spacingAndGlyphs">5/19 (26)</text>
<text x="306.1" y="433" font-size="7.7" fill="#111" stroke="#111" textLength="15.72" lengthAdjust="spacingAndGlyphs">7.03</text>
<text x="488.24" y="433" font-size="7.7" fill="#111" stroke="#111" textLength="15.72" lengthAdjust="spacingAndGlyphs">.095</text>
<text x="176.03" y="441.25" font-size="7.7" fill="#111" stroke="#111" textLength="27.84" lengthAdjust="spacingAndGlyphs">1/2 (50)</text>
<text x="221.25" y="441.25" font-size="7.7" fill="#111" stroke="#111" textLength="11.22" lengthAdjust="spacingAndGlyphs">NE</text>
<text x="260.83" y="441.25" font-size="7.7" fill="#111" stroke="#111" textLength="23.34" lengthAdjust="spacingAndGlyphs">0/2 (0)</text>
<text x="306.15" y="441.25" font-size="7.7" fill="#111" stroke="#111" textLength="15.72" lengthAdjust="spacingAndGlyphs">6.87</text>
<text x="488.24" y="441.25" font-size="7.7" fill="#111" stroke="#111" textLength="15.72" lengthAdjust="spacingAndGlyphs">.698</text>
<line x1="354.6" y1="220.8" x2="354.6" y2="455.4" stroke="#111" stroke-width="1.2" stroke-dasharray="4.4 2.3"/>
<path d="M341.4,241.4H355.6M341.4,239.8V243M355.6,239.8V243M336.7,249.66H349.5M336.7,248.06V251.26M349.5,248.06V251.26M338.3,274.46H357.6M338.3,272.86V276.06M357.6,272.86V276.06M340.1,282.73H361M340.1,281.13V284.33M361,281.13V284.33M337.8,291H354.5M337.8,289.4V292.6M354.5,289.4V292.6M341.8,307.53H377.1M341.8,305.93V309.13M377.1,305.93V309.13M341,332.33H354M341,330.73V333.93M354,330.73V333.93M340.6,340.6H355M340.6,339V342.2M355,339V342.2M338.1,348.87H378.1M338.1,347.27V350.47M378.1,347.27V350.47M340.2,357.13H359.8M340.2,355.53V358.74M359.8,355.53V358.74M340.2,381.94H352.7M340.2,380.34V383.54M352.7,380.34V383.54M341.9,390.2H429.2M341.9,388.6V391.8M429.2,388.6V391.8M337.5,415H376.6M337.5,413.4V416.6M376.6,413.4V416.6M336.7,423.27H360.2M336.7,421.67V424.87M360.2,421.67V424.87M340.8,431.54H356.9M340.8,429.94V433.14M356.9,429.94V433.14M337.5,439.8H459.8M337.5,438.2V441.4M459.8,438.2V441.4" fill="none" stroke="#222" stroke-width="1"/>
<circle cx="345" cy="241.4" r="1.7" fill="#c8102e"/>
<circle cx="338.7" cy="249.66" r="1.7" fill="#c8102e"/>
<circle cx="342.4" cy="274.46" r="1.7" fill="#c8102e"/>
<circle cx="345.1" cy="282.73" r="1.7" fill="#c8102e"/>
<circle cx="340.1" cy="291" r="1.7" fill="#c8102e"/>
<circle cx="351.9" cy="307.53" r="1.7" fill="#c8102e"/>
<circle cx="344.4" cy="332.33" r="1.7" fill="#c8102e"/>
<circle cx="344.4" cy="340.6" r="1.7" fill="#c8102e"/>
<circle cx="343.5" cy="348.87" r="1.7" fill="#c8102e"/>
<circle cx="344.4" cy="357.13" r="1.7" fill="#c8102e"/>
<circle cx="343.1" cy="381.94" r="1.7" fill="#c8102e"/>
<circle cx="358.5" cy="390.2" r="1.7" fill="#c8102e"/>
<circle cx="342.9" cy="415" r="1.7" fill="#c8102e"/>
<circle cx="338.6" cy="423.27" r="1.7" fill="#c8102e"/>
<circle cx="344.8" cy="431.54" r="1.7" fill="#c8102e"/>
<circle cx="346.2" cy="439.8" r="1.7" fill="#c8102e"/>
<text x="356.26" y="301.6" font-size="7" fill="#111" stroke="#111" textLength="11.09" lengthAdjust="spacingAndGlyphs">NE</text>
<line x1="336.3" y1="455.4" x2="469.4" y2="455.4" stroke="#111" stroke-width="1.1"/>
<path d="M336.3,455.4V458.6M345.17,455.4V458.6M354.05,455.4V458.6M362.92,455.4V458.6M371.79,455.4V458.6M380.67,455.4V458.6M389.54,455.4V458.6M398.41,455.4V458.6M407.28,455.4V458.6M416.16,455.4V458.6M425.03,455.4V458.6M433.9,455.4V458.6M442.78,455.4V458.6M451.65,455.4V458.6M460.52,455.4V458.6M469.39,455.4V458.6" fill="none" stroke="#111" stroke-width="0.9"/>
<text x="333.22" y="464.6" font-size="6.6" fill="#111" stroke="#111" textLength="6.13" lengthAdjust="spacingAndGlyphs" style="stroke-width:0.15px">0.0</text>
<text x="342.1" y="464.6" font-size="6.6" fill="#111" stroke="#111" textLength="6.15" lengthAdjust="spacingAndGlyphs" style="stroke-width:0.15px">0.5</text>
<text x="350.81" y="464.6" font-size="6.6" fill="#111" stroke="#111" textLength="6.3" lengthAdjust="spacingAndGlyphs" style="stroke-width:0.15px">1.0</text>
<text x="359.68" y="464.6" font-size="6.6" fill="#111" stroke="#111" textLength="6.32" lengthAdjust="spacingAndGlyphs" style="stroke-width:0.15px">1.5</text>
<text x="368.67" y="464.6" font-size="6.6" fill="#111" stroke="#111" textLength="6.18" lengthAdjust="spacingAndGlyphs" style="stroke-width:0.15px">2.0</text>
<text x="377.54" y="464.6" font-size="6.6" fill="#111" stroke="#111" textLength="6.2" lengthAdjust="spacingAndGlyphs" style="stroke-width:0.15px">2.5</text>
<text x="386.46" y="464.6" font-size="6.6" fill="#111" stroke="#111" textLength="6.13" lengthAdjust="spacingAndGlyphs" style="stroke-width:0.15px">3.0</text>
<text x="395.33" y="464.6" font-size="6.6" fill="#111" stroke="#111" textLength="6.15" lengthAdjust="spacingAndGlyphs" style="stroke-width:0.15px">3.5</text>
<text x="404.3" y="464.6" font-size="6.6" fill="#111" stroke="#111" textLength="6.04" lengthAdjust="spacingAndGlyphs" style="stroke-width:0.15px">4.0</text>
<text x="413.17" y="464.6" font-size="6.6" fill="#111" stroke="#111" textLength="6.06" lengthAdjust="spacingAndGlyphs" style="stroke-width:0.15px">4.5</text>
<text x="421.95" y="464.6" font-size="6.6" fill="#111" stroke="#111" textLength="6.13" lengthAdjust="spacingAndGlyphs" style="stroke-width:0.15px">5.0</text>
<text x="430.83" y="464.6" font-size="6.6" fill="#111" stroke="#111" textLength="6.15" lengthAdjust="spacingAndGlyphs" style="stroke-width:0.15px">5.5</text>
<text x="439.65" y="464.6" font-size="6.6" fill="#111" stroke="#111" textLength="6.18" lengthAdjust="spacingAndGlyphs" style="stroke-width:0.15px">6.0</text>
<text x="448.53" y="464.6" font-size="6.6" fill="#111" stroke="#111" textLength="6.2" lengthAdjust="spacingAndGlyphs" style="stroke-width:0.15px">6.5</text>
<text x="457.4" y="464.6" font-size="6.6" fill="#111" stroke="#111" textLength="6.18" lengthAdjust="spacingAndGlyphs" style="stroke-width:0.15px">7.0</text>
<text x="466.27" y="464.6" font-size="6.6" fill="#111" stroke="#111" textLength="6.2" lengthAdjust="spacingAndGlyphs" style="stroke-width:0.15px">7.5</text>
<line x1="339.5" y1="469.4" x2="355.8" y2="469.4" stroke="#111" stroke-width="1.1"/>
<line x1="358.8" y1="469.4" x2="466" y2="469.4" stroke="#111" stroke-width="1.1"/>
<path d="M335.6,469.4L340.2,467.3L340.2,471.5Z" fill="#111"/>
<path d="M469.6,469.4L465.0,467.3L465.0,471.5Z" fill="#111"/>
<text x="321.42" y="480.9" font-size="8.06" fill="#111" stroke="#111" textLength="35.2" lengthAdjust="spacingAndGlyphs" style="stroke-width:0.2px">Favors CPX-351</text>
<text x="359.4" y="480.9" font-size="8.06" fill="#111" stroke="#111" textLength="27.8" lengthAdjust="spacingAndGlyphs" style="stroke-width:0.2px">Favors 7 + 3</text>
<text x="7.02" y="496.8" font-size="11.03" fill="#111" stroke="#111" textLength="8.71" lengthAdjust="spacingAndGlyphs" font-weight="bold" style="stroke-width:0.3px">C</text>
<line x1="49.6" y1="498.5" x2="49.6" y2="604.2" stroke="#111" stroke-width="1.2"/>
<line x1="49" y1="601.6" x2="236.2" y2="601.6" stroke="#111" stroke-width="1.2"/>
<line x1="46.6" y1="601.6" x2="49.6" y2="601.6" stroke="#111" stroke-width="1"/>
<text x="33.41" y="604.5" font-size="8.3" fill="#111" stroke="#111" textLength="10.15" lengthAdjust="spacingAndGlyphs">0.0</text>
<line x1="46.6" y1="581.92" x2="49.6" y2="581.92" stroke="#111" stroke-width="1"/>
<text x="33.4" y="584.82" font-size="8.3" fill="#111" stroke="#111" textLength="10.27" lengthAdjust="spacingAndGlyphs">0.2</text>
<line x1="46.6" y1="562.24" x2="49.6" y2="562.24" stroke="#111" stroke-width="1"/>
<text x="33.41" y="565.14" font-size="8.3" fill="#111" stroke="#111" textLength="10.11" lengthAdjust="spacingAndGlyphs">0.4</text>
<line x1="46.6" y1="542.56" x2="49.6" y2="542.56" stroke="#111" stroke-width="1"/>
<text x="33.41" y="545.46" font-size="8.3" fill="#111" stroke="#111" textLength="10.19" lengthAdjust="spacingAndGlyphs">0.6</text>
<line x1="46.6" y1="522.88" x2="49.6" y2="522.88" stroke="#111" stroke-width="1"/>
<text x="33.41" y="525.78" font-size="8.3" fill="#111" stroke="#111" textLength="10.19" lengthAdjust="spacingAndGlyphs">0.8</text>
<line x1="46.6" y1="503.2" x2="49.6" y2="503.2" stroke="#111" stroke-width="1"/>
<text x="33.14" y="506.1" font-size="8.3" fill="#111" stroke="#111" textLength="10.43" lengthAdjust="spacingAndGlyphs">1.0</text>
<line x1="49.8" y1="601.6" x2="49.8" y2="604.6" stroke="#111" stroke-width="1"/>
<text x="47.62" y="613.4" font-size="8" fill="#111" stroke="#111" textLength="4.34" lengthAdjust="spacingAndGlyphs">0</text>
<line x1="62.72" y1="601.6" x2="62.72" y2="604.6" stroke="#111" stroke-width="1"/>
<text x="60.56" y="613.4" font-size="8" fill="#111" stroke="#111" textLength="4.34" lengthAdjust="spacingAndGlyphs">5</text>
<line x1="75.65" y1="601.6" x2="75.65" y2="604.6" stroke="#111" stroke-width="1"/>
<text x="71.16" y="613.4" font-size="8" fill="#111" stroke="#111" textLength="8.68" lengthAdjust="spacingAndGlyphs">10</text>
<line x1="88.57" y1="601.6" x2="88.57" y2="604.6" stroke="#111" stroke-width="1"/>
<text x="84.11" y="613.4" font-size="8" fill="#111" stroke="#111" textLength="8.68" lengthAdjust="spacingAndGlyphs">15</text>
<line x1="101.5" y1="601.6" x2="101.5" y2="604.6" stroke="#111" stroke-width="1"/>
<text x="97.11" y="613.4" font-size="8" fill="#111" stroke="#111" textLength="8.68" lengthAdjust="spacingAndGlyphs">20</text>
<line x1="114.42" y1="601.6" x2="114.42" y2="604.6" stroke="#111" stroke-width="1"/>
<text x="110.06" y="613.4" font-size="8" fill="#111" stroke="#111" textLength="8.68" lengthAdjust="spacingAndGlyphs">25</text>
<line x1="127.35" y1="601.6" x2="127.35" y2="604.6" stroke="#111" stroke-width="1"/>
<text x="123" y="613.4" font-size="8" fill="#111" stroke="#111" textLength="8.68" lengthAdjust="spacingAndGlyphs">30</text>
<line x1="140.27" y1="601.6" x2="140.27" y2="604.6" stroke="#111" stroke-width="1"/>
<text x="135.95" y="613.4" font-size="8" fill="#111" stroke="#111" textLength="8.68" lengthAdjust="spacingAndGlyphs">35</text>
<line x1="153.2" y1="601.6" x2="153.2" y2="604.6" stroke="#111" stroke-width="1"/>
<text x="148.93" y="613.4" font-size="8" fill="#111" stroke="#111" textLength="8.68" lengthAdjust="spacingAndGlyphs">40</text>
<line x1="166.12" y1="601.6" x2="166.12" y2="604.6" stroke="#111" stroke-width="1"/>
<text x="161.87" y="613.4" font-size="8" fill="#111" stroke="#111" textLength="8.68" lengthAdjust="spacingAndGlyphs">45</text>
<line x1="179.05" y1="601.6" x2="179.05" y2="604.6" stroke="#111" stroke-width="1"/>
<text x="174.7" y="613.4" font-size="8" fill="#111" stroke="#111" textLength="8.68" lengthAdjust="spacingAndGlyphs">50</text>
<line x1="191.98" y1="601.6" x2="191.98" y2="604.6" stroke="#111" stroke-width="1"/>
<text x="187.65" y="613.4" font-size="8" fill="#111" stroke="#111" textLength="8.68" lengthAdjust="spacingAndGlyphs">55</text>
<line x1="204.9" y1="601.6" x2="204.9" y2="604.6" stroke="#111" stroke-width="1"/>
<text x="200.51" y="613.4" font-size="8" fill="#111" stroke="#111" textLength="8.68" lengthAdjust="spacingAndGlyphs">60</text>
<line x1="217.82" y1="601.6" x2="217.82" y2="604.6" stroke="#111" stroke-width="1"/>
<text x="213.46" y="613.4" font-size="8" fill="#111" stroke="#111" textLength="8.68" lengthAdjust="spacingAndGlyphs">65</text>
<line x1="230.75" y1="601.6" x2="230.75" y2="604.6" stroke="#111" stroke-width="1"/>
<text x="226.36" y="613.4" font-size="8" fill="#111" stroke="#111" textLength="8.68" lengthAdjust="spacingAndGlyphs">70</text>
<text x="112.5" y="625.5" font-size="8.8" fill="#111" stroke="#111" textLength="59.14" lengthAdjust="spacingAndGlyphs" style="stroke-width:0.5px">Months from alloHCT</text>
<text transform="translate(26.4 550.2) rotate(-90)" x="-44.97" y="0" font-size="8.6" fill="#111" stroke="#111" style="stroke-width:0.4px" textLength="89.9" lengthAdjust="spacingAndGlyphs">Cumulative incidence of relapse</text>
<text x="45.91" y="640.6" font-size="7.49" fill="#c8102e" stroke="#c8102e" textLength="7.79" lengthAdjust="spacingAndGlyphs">53</text>
<text x="45.93" y="649.9" font-size="7.49" fill="#23619c" stroke="#23619c" textLength="7.79" lengthAdjust="spacingAndGlyphs">39</text>
<text x="58.84" y="640.6" font-size="7.49" fill="#c8102e" stroke="#c8102e" textLength="7.79" lengthAdjust="spacingAndGlyphs">33</text>
<text x="58.72" y="649.9" font-size="7.49" fill="#23619c" stroke="#23619c" textLength="7.79" lengthAdjust="spacingAndGlyphs">18</text>
<text x="71.73" y="640.6" font-size="7.49" fill="#c8102e" stroke="#c8102e" textLength="7.79" lengthAdjust="spacingAndGlyphs">28</text>
<text x="71.64" y="649.9" font-size="7.49" fill="#23619c" stroke="#23619c" textLength="7.79" lengthAdjust="spacingAndGlyphs">13</text>
<text x="84.66" y="640.6" font-size="7.49" fill="#c8102e" stroke="#c8102e" textLength="7.79" lengthAdjust="spacingAndGlyphs">28</text>
<text x="84.55" y="649.9" font-size="7.49" fill="#23619c" stroke="#23619c" textLength="7.79" lengthAdjust="spacingAndGlyphs">10</text>
<text x="97.58" y="640.6" font-size="7.49" fill="#c8102e" stroke="#c8102e" textLength="7.79" lengthAdjust="spacingAndGlyphs">26</text>
<text x="99.56" y="649.9" font-size="7.49" fill="#23619c" stroke="#23619c" textLength="3.89" lengthAdjust="spacingAndGlyphs">9</text>
<text x="110.5" y="640.6" font-size="7.49" fill="#c8102e" stroke="#c8102e" textLength="7.79" lengthAdjust="spacingAndGlyphs">26</text>
<text x="112.47" y="649.9" font-size="7.49" fill="#23619c" stroke="#23619c" textLength="3.89" lengthAdjust="spacingAndGlyphs">8</text>
<text x="123.43" y="640.6" font-size="7.49" fill="#c8102e" stroke="#c8102e" textLength="7.79" lengthAdjust="spacingAndGlyphs">23</text>
<text x="125.39" y="649.9" font-size="7.49" fill="#23619c" stroke="#23619c" textLength="3.89" lengthAdjust="spacingAndGlyphs">8</text>
<text x="136.35" y="640.6" font-size="7.49" fill="#c8102e" stroke="#c8102e" textLength="7.79" lengthAdjust="spacingAndGlyphs">23</text>
<text x="138.31" y="649.9" font-size="7.49" fill="#23619c" stroke="#23619c" textLength="3.89" lengthAdjust="spacingAndGlyphs">8</text>
<text x="149.31" y="640.6" font-size="7.49" fill="#c8102e" stroke="#c8102e" textLength="7.79" lengthAdjust="spacingAndGlyphs">22</text>
<text x="151.24" y="649.9" font-size="7.49" fill="#23619c" stroke="#23619c" textLength="3.89" lengthAdjust="spacingAndGlyphs">8</text>
<text x="162.22" y="640.6" font-size="7.49" fill="#c8102e" stroke="#c8102e" textLength="7.79" lengthAdjust="spacingAndGlyphs">21</text>
<text x="164.16" y="649.9" font-size="7.49" fill="#23619c" stroke="#23619c" textLength="3.89" lengthAdjust="spacingAndGlyphs">8</text>
<text x="175.06" y="640.6" font-size="7.49" fill="#c8102e" stroke="#c8102e" textLength="7.79" lengthAdjust="spacingAndGlyphs">19</text>
<text x="177.09" y="649.9" font-size="7.49" fill="#23619c" stroke="#23619c" textLength="3.89" lengthAdjust="spacingAndGlyphs">8</text>
<text x="187.93" y="640.6" font-size="7.49" fill="#c8102e" stroke="#c8102e" textLength="7.79" lengthAdjust="spacingAndGlyphs">14</text>
<text x="190" y="649.9" font-size="7.49" fill="#23619c" stroke="#23619c" textLength="3.89" lengthAdjust="spacingAndGlyphs">6</text>
<text x="202.96" y="640.6" font-size="7.49" fill="#c8102e" stroke="#c8102e" textLength="3.89" lengthAdjust="spacingAndGlyphs">7</text>
<text x="202.85" y="649.9" font-size="7.49" fill="#23619c" stroke="#23619c" textLength="3.89" lengthAdjust="spacingAndGlyphs">1</text>
<text x="215.78" y="640.6" font-size="7.49" fill="#c8102e" stroke="#c8102e" textLength="3.89" lengthAdjust="spacingAndGlyphs">1</text>
<text x="215.78" y="649.9" font-size="7.49" fill="#23619c" stroke="#23619c" textLength="3.89" lengthAdjust="spacingAndGlyphs">1</text>
<text x="228.7" y="640.6" font-size="7.49" fill="#c8102e" stroke="#c8102e" textLength="3.89" lengthAdjust="spacingAndGlyphs">1</text>
<text x="228.7" y="649.9" font-size="7.49" fill="#23619c" stroke="#23619c" textLength="3.89" lengthAdjust="spacingAndGlyphs">1</text>
<text x="277.07" y="496.8" font-size="11.03" fill="#111" stroke="#111" textLength="9.28" lengthAdjust="spacingAndGlyphs" font-weight="bold" style="stroke-width:0.3px">D</text>
<line x1="319.2" y1="498.5" x2="319.2" y2="604.2" stroke="#5a5a5a" stroke-width="1.9"/>
<line x1="318.6" y1="601.6" x2="505.6" y2="601.6" stroke="#111" stroke-width="1.2"/>
<line x1="316.2" y1="601.6" x2="319.2" y2="601.6" stroke="#111" stroke-width="1"/>
<text x="303.01" y="604.5" font-size="8.3" fill="#111" stroke="#111" textLength="10.15" lengthAdjust="spacingAndGlyphs">0.0</text>
<line x1="316.2" y1="581.92" x2="319.2" y2="581.92" stroke="#111" stroke-width="1"/>
<text x="303" y="584.82" font-size="8.3" fill="#111" stroke="#111" textLength="10.27" lengthAdjust="spacingAndGlyphs">0.2</text>
<line x1="316.2" y1="562.24" x2="319.2" y2="562.24" stroke="#111" stroke-width="1"/>
<text x="303.01" y="565.14" font-size="8.3" fill="#111" stroke="#111" textLength="10.11" lengthAdjust="spacingAndGlyphs">0.4</text>
<line x1="316.2" y1="542.56" x2="319.2" y2="542.56" stroke="#111" stroke-width="1"/>
<text x="303.01" y="545.46" font-size="8.3" fill="#111" stroke="#111" textLength="10.19" lengthAdjust="spacingAndGlyphs">0.6</text>
<line x1="316.2" y1="522.88" x2="319.2" y2="522.88" stroke="#111" stroke-width="1"/>
<text x="303.01" y="525.78" font-size="8.3" fill="#111" stroke="#111" textLength="10.19" lengthAdjust="spacingAndGlyphs">0.8</text>
<line x1="316.2" y1="503.2" x2="319.2" y2="503.2" stroke="#111" stroke-width="1"/>
<text x="302.74" y="506.1" font-size="8.3" fill="#111" stroke="#111" textLength="10.43" lengthAdjust="spacingAndGlyphs">1.0</text>
<line x1="318.8" y1="601.6" x2="318.8" y2="604.6" stroke="#111" stroke-width="1"/>
<text x="316.62" y="613.4" font-size="8" fill="#111" stroke="#111" textLength="4.34" lengthAdjust="spacingAndGlyphs">0</text>
<line x1="331.8" y1="601.6" x2="331.8" y2="604.6" stroke="#111" stroke-width="1"/>
<text x="329.64" y="613.4" font-size="8" fill="#111" stroke="#111" textLength="4.34" lengthAdjust="spacingAndGlyphs">5</text>
<line x1="344.8" y1="601.6" x2="344.8" y2="604.6" stroke="#111" stroke-width="1"/>
<text x="340.32" y="613.4" font-size="8" fill="#111" stroke="#111" textLength="8.68" lengthAdjust="spacingAndGlyphs">10</text>
<line x1="357.8" y1="601.6" x2="357.8" y2="604.6" stroke="#111" stroke-width="1"/>
<text x="353.33" y="613.4" font-size="8" fill="#111" stroke="#111" textLength="8.68" lengthAdjust="spacingAndGlyphs">15</text>
<line x1="370.8" y1="601.6" x2="370.8" y2="604.6" stroke="#111" stroke-width="1"/>
<text x="366.41" y="613.4" font-size="8" fill="#111" stroke="#111" textLength="8.68" lengthAdjust="spacingAndGlyphs">20</text>
<line x1="383.8" y1="601.6" x2="383.8" y2="604.6" stroke="#111" stroke-width="1"/>
<text x="379.43" y="613.4" font-size="8" fill="#111" stroke="#111" textLength="8.68" lengthAdjust="spacingAndGlyphs">25</text>
<line x1="396.8" y1="601.6" x2="396.8" y2="604.6" stroke="#111" stroke-width="1"/>
<text x="392.45" y="613.4" font-size="8" fill="#111" stroke="#111" textLength="8.68" lengthAdjust="spacingAndGlyphs">30</text>
<line x1="409.8" y1="601.6" x2="409.8" y2="604.6" stroke="#111" stroke-width="1"/>
<text x="405.47" y="613.4" font-size="8" fill="#111" stroke="#111" textLength="8.68" lengthAdjust="spacingAndGlyphs">35</text>
<line x1="422.8" y1="601.6" x2="422.8" y2="604.6" stroke="#111" stroke-width="1"/>
<text x="418.53" y="613.4" font-size="8" fill="#111" stroke="#111" textLength="8.68" lengthAdjust="spacingAndGlyphs">40</text>
<line x1="435.8" y1="601.6" x2="435.8" y2="604.6" stroke="#111" stroke-width="1"/>
<text x="431.55" y="613.4" font-size="8" fill="#111" stroke="#111" textLength="8.68" lengthAdjust="spacingAndGlyphs">45</text>
<line x1="448.8" y1="601.6" x2="448.8" y2="604.6" stroke="#111" stroke-width="1"/>
<text x="444.45" y="613.4" font-size="8" fill="#111" stroke="#111" textLength="8.68" lengthAdjust="spacingAndGlyphs">50</text>
<line x1="461.8" y1="601.6" x2="461.8" y2="604.6" stroke="#111" stroke-width="1"/>
<text x="457.47" y="613.4" font-size="8" fill="#111" stroke="#111" textLength="8.68" lengthAdjust="spacingAndGlyphs">55</text>
<line x1="474.8" y1="601.6" x2="474.8" y2="604.6" stroke="#111" stroke-width="1"/>
<text x="470.41" y="613.4" font-size="8" fill="#111" stroke="#111" textLength="8.68" lengthAdjust="spacingAndGlyphs">60</text>
<line x1="487.8" y1="601.6" x2="487.8" y2="604.6" stroke="#111" stroke-width="1"/>
<text x="483.43" y="613.4" font-size="8" fill="#111" stroke="#111" textLength="8.68" lengthAdjust="spacingAndGlyphs">65</text>
<line x1="500.8" y1="601.6" x2="500.8" y2="604.6" stroke="#111" stroke-width="1"/>
<text x="496.41" y="613.4" font-size="8" fill="#111" stroke="#111" textLength="8.68" lengthAdjust="spacingAndGlyphs">70</text>
<text x="382.5" y="625.5" font-size="8.8" fill="#111" stroke="#111" textLength="59.14" lengthAdjust="spacingAndGlyphs" style="stroke-width:0.5px">Months from alloHCT</text>
<text transform="translate(286 549.8) rotate(-90)" x="-30.57" y="0" font-size="8.8" fill="#111" stroke="#111" style="stroke-width:0.4px" textLength="61.11" lengthAdjust="spacingAndGlyphs">Cumulative incidence</text>
<text transform="translate(295.5 549.6) rotate(-90)" x="-34.11" y="0" font-size="8.6" fill="#111" stroke="#111" style="stroke-width:0.4px" textLength="67.96" lengthAdjust="spacingAndGlyphs">of non-relapse mortality</text>
<text x="314.91" y="640.6" font-size="7.49" fill="#c8102e" stroke="#c8102e" textLength="7.79" lengthAdjust="spacingAndGlyphs">53</text>
<text x="314.93" y="649.9" font-size="7.49" fill="#23619c" stroke="#23619c" textLength="7.79" lengthAdjust="spacingAndGlyphs">39</text>
<text x="327.91" y="640.6" font-size="7.49" fill="#c8102e" stroke="#c8102e" textLength="7.79" lengthAdjust="spacingAndGlyphs">33</text>
<text x="327.79" y="649.9" font-size="7.49" fill="#23619c" stroke="#23619c" textLength="7.79" lengthAdjust="spacingAndGlyphs">18</text>
<text x="340.88" y="640.6" font-size="7.49" fill="#c8102e" stroke="#c8102e" textLength="7.79" lengthAdjust="spacingAndGlyphs">28</text>
<text x="340.79" y="649.9" font-size="7.49" fill="#23619c" stroke="#23619c" textLength="7.79" lengthAdjust="spacingAndGlyphs">13</text>
<text x="353.88" y="640.6" font-size="7.49" fill="#c8102e" stroke="#c8102e" textLength="7.79" lengthAdjust="spacingAndGlyphs">28</text>
<text x="353.78" y="649.9" font-size="7.49" fill="#23619c" stroke="#23619c" textLength="7.79" lengthAdjust="spacingAndGlyphs">10</text>
<text x="366.88" y="640.6" font-size="7.49" fill="#c8102e" stroke="#c8102e" textLength="7.79" lengthAdjust="spacingAndGlyphs">26</text>
<text x="368.86" y="649.9" font-size="7.49" fill="#23619c" stroke="#23619c" textLength="3.89" lengthAdjust="spacingAndGlyphs">9</text>
<text x="379.88" y="640.6" font-size="7.49" fill="#c8102e" stroke="#c8102e" textLength="7.79" lengthAdjust="spacingAndGlyphs">26</text>
<text x="381.84" y="649.9" font-size="7.49" fill="#23619c" stroke="#23619c" textLength="3.89" lengthAdjust="spacingAndGlyphs">8</text>
<text x="392.88" y="640.6" font-size="7.49" fill="#c8102e" stroke="#c8102e" textLength="7.79" lengthAdjust="spacingAndGlyphs">23</text>
<text x="394.84" y="649.9" font-size="7.49" fill="#23619c" stroke="#23619c" textLength="3.89" lengthAdjust="spacingAndGlyphs">8</text>
<text x="405.88" y="640.6" font-size="7.49" fill="#c8102e" stroke="#c8102e" textLength="7.79" lengthAdjust="spacingAndGlyphs">23</text>
<text x="407.84" y="649.9" font-size="7.49" fill="#23619c" stroke="#23619c" textLength="3.89" lengthAdjust="spacingAndGlyphs">8</text>
<text x="418.91" y="640.6" font-size="7.49" fill="#c8102e" stroke="#c8102e" textLength="7.79" lengthAdjust="spacingAndGlyphs">22</text>
<text x="420.84" y="649.9" font-size="7.49" fill="#23619c" stroke="#23619c" textLength="3.89" lengthAdjust="spacingAndGlyphs">8</text>
<text x="431.9" y="640.6" font-size="7.49" fill="#c8102e" stroke="#c8102e" textLength="7.79" lengthAdjust="spacingAndGlyphs">21</text>
<text x="433.84" y="649.9" font-size="7.49" fill="#23619c" stroke="#23619c" textLength="3.89" lengthAdjust="spacingAndGlyphs">8</text>
<text x="444.81" y="640.6" font-size="7.49" fill="#c8102e" stroke="#c8102e" textLength="7.79" lengthAdjust="spacingAndGlyphs">19</text>
<text x="446.84" y="649.9" font-size="7.49" fill="#23619c" stroke="#23619c" textLength="3.89" lengthAdjust="spacingAndGlyphs">8</text>
<text x="457.76" y="640.6" font-size="7.49" fill="#c8102e" stroke="#c8102e" textLength="7.79" lengthAdjust="spacingAndGlyphs">14</text>
<text x="459.82" y="649.9" font-size="7.49" fill="#23619c" stroke="#23619c" textLength="3.89" lengthAdjust="spacingAndGlyphs">6</text>
<text x="472.86" y="640.6" font-size="7.49" fill="#c8102e" stroke="#c8102e" textLength="3.89" lengthAdjust="spacingAndGlyphs">7</text>
<text x="472.75" y="649.9" font-size="7.49" fill="#23619c" stroke="#23619c" textLength="3.89" lengthAdjust="spacingAndGlyphs">1</text>
<text x="485.75" y="640.6" font-size="7.49" fill="#c8102e" stroke="#c8102e" textLength="3.89" lengthAdjust="spacingAndGlyphs">1</text>
<text x="485.75" y="649.9" font-size="7.49" fill="#23619c" stroke="#23619c" textLength="3.89" lengthAdjust="spacingAndGlyphs">1</text>
<text x="498.75" y="640.6" font-size="7.49" fill="#c8102e" stroke="#c8102e" textLength="3.89" lengthAdjust="spacingAndGlyphs">1</text>
<text x="498.75" y="649.9" font-size="7.49" fill="#23619c" stroke="#23619c" textLength="3.89" lengthAdjust="spacingAndGlyphs">1</text>
<text x="22" y="631.1" font-size="8.29" fill="#111" stroke="#111" textLength="20.48" lengthAdjust="spacingAndGlyphs">At risk</text>
<text x="10.92" y="640.9" font-size="8.6" fill="#c8102e" stroke="#c8102e" textLength="30.74" lengthAdjust="spacingAndGlyphs">CPX-351</text>
<text x="23.9" y="650" font-size="8.64" fill="#23619c" stroke="#23619c" textLength="18.14" lengthAdjust="spacingAndGlyphs">7 + 3</text>
<text x="291" y="631.1" font-size="8.29" fill="#111" stroke="#111" textLength="20.68" lengthAdjust="spacingAndGlyphs">At risk</text>
<text x="280.62" y="640.9" font-size="8.6" fill="#c8102e" stroke="#c8102e" textLength="30.95" lengthAdjust="spacingAndGlyphs">CPX-351</text>
<text x="293.6" y="650" font-size="8.64" fill="#23619c" stroke="#23619c" textLength="17.93" lengthAdjust="spacingAndGlyphs">7 + 3</text>
<text x="136.6" y="508" font-size="7.01" fill="#111" stroke="#111" textLength="56.57" lengthAdjust="spacingAndGlyphs">Cumulative incidence</text>
<text x="110.31" y="515.4" font-size="7.01" fill="#111" stroke="#111" textLength="24.69" lengthAdjust="spacingAndGlyphs">Events/N</text>
<text x="154.26" y="515.4" font-size="7.01" fill="#111" stroke="#111" textLength="22.1" lengthAdjust="spacingAndGlyphs">(95% CI)</text>
<text x="197.9" y="515.4" font-size="7.01" fill="#111" stroke="#111" textLength="35.39" lengthAdjust="spacingAndGlyphs">HR (95% CI)</text>
<text x="84.2" y="524.2" font-size="7.01" fill="#c8102e" stroke="#c8102e" textLength="24.39" lengthAdjust="spacingAndGlyphs">CPX-351</text>
<text x="113.28" y="524.3" font-size="7.01" fill="#c8102e" stroke="#c8102e" textLength="17.21" lengthAdjust="spacingAndGlyphs">16/53</text>
<text x="142.25" y="524.3" font-size="7.01" fill="#c8102e" stroke="#c8102e" textLength="45.24" lengthAdjust="spacingAndGlyphs">0.30 (0.18, 0.43)</text>
<text x="192.65" y="530.9" font-size="7.01" fill="#111" stroke="#111" textLength="45.54" lengthAdjust="spacingAndGlyphs">0.72 (0.40, 1.30)</text>
<text x="84.17" y="537.3" font-size="7.01" fill="#23619c" stroke="#23619c" textLength="14.91" lengthAdjust="spacingAndGlyphs">7 + 3</text>
<text x="113.28" y="537.2" font-size="7.01" fill="#23619c" stroke="#23619c" textLength="17.24" lengthAdjust="spacingAndGlyphs">16/39</text>
<text x="142.25" y="537.2" font-size="7.01" fill="#23619c" stroke="#23619c" textLength="45.24" lengthAdjust="spacingAndGlyphs">0.41 (0.26, 0.56)</text>
<text x="406.2" y="501.3" font-size="7.01" fill="#111" stroke="#111" textLength="56.97" lengthAdjust="spacingAndGlyphs">Cumulative incidence</text>
<text x="379.3" y="508.4" font-size="7.01" fill="#111" stroke="#111" textLength="25.21" lengthAdjust="spacingAndGlyphs">Events/N</text>
<text x="419.92" y="508.4" font-size="7.01" fill="#111" stroke="#111" textLength="24.99" lengthAdjust="spacingAndGlyphs">(95% CI)</text>
<text x="470.8" y="508.4" font-size="7.01" fill="#111" stroke="#111" textLength="35.08" lengthAdjust="spacingAndGlyphs">HR (95% CI)</text>
<text x="353.48" y="517" font-size="7.01" fill="#c8102e" stroke="#c8102e" textLength="25.62" lengthAdjust="spacingAndGlyphs">CPX-351</text>
<text x="383.79" y="517" font-size="7.01" fill="#c8102e" stroke="#c8102e" textLength="17.1" lengthAdjust="spacingAndGlyphs">15/53</text>
<text x="410.75" y="517" font-size="7.01" fill="#c8102e" stroke="#c8102e" textLength="46.66" lengthAdjust="spacingAndGlyphs">0.41 (0.25, 0.57)</text>
<text x="464.75" y="522.2" font-size="7.01" fill="#111" stroke="#111" textLength="45.95" lengthAdjust="spacingAndGlyphs">0.42 (0.21, 0.86)</text>
<text x="353.48" y="526.4" font-size="7.01" fill="#23619c" stroke="#23619c" textLength="14.49" lengthAdjust="spacingAndGlyphs">7 + 3</text>
<text x="383.79" y="526.4" font-size="7.01" fill="#23619c" stroke="#23619c" textLength="17.14" lengthAdjust="spacingAndGlyphs">16/39</text>
<text x="410.75" y="526.4" font-size="7.01" fill="#23619c" stroke="#23619c" textLength="46.66" lengthAdjust="spacingAndGlyphs">0.69 (0.45, 0.84)</text>
<path d="M49.6,564H66.4V561.3H201" fill="none" stroke="#13508a" stroke-width="1.3"/>
<path d="M49.6,577.4H53.3V575.4H56.5V573.5H60V572.8H61.5V571.7H219" fill="none" stroke="#c8102e" stroke-width="1.3"/>
<path d="M188.5,561.3V558M189.6,561.3V558M190.8,561.3V558M192.2,561.3V558M193.7,561.3V558M195.4,561.3V558M198.8,561.3V558M199.9,561.3V558" fill="none" stroke="#13508a" stroke-width="0.9"/>
<path d="M71.5,571.7V568.4M120.2,571.7V568.4M151.2,571.7V568.4M173.2,571.7V568.4M187.1,571.7V568.4M191.9,571.7V568.4M200.6,571.7V568.4M201.4,571.7V568.4M202.3,571.7V568.4M203.7,571.7V568.4M205.4,571.7V568.4M208.4,571.7V568.4M218.3,571.7V568.4" fill="none" stroke="#c8102e" stroke-width="0.9"/>
<path d="M319.3,601.2H321.2V593.3H323.8V590.4H324.4V584.1H324.6V581.2H326.4V577.4H330.4V573.1H335.3V569.9H335.9V568.5H336.2V565H338.8V560.3H339.9V555.7H345V551.5H352.7V546.9H356.5V542.8H361.9V538.5H382V533.8H470.5" fill="none" stroke="#13508a" stroke-width="1.3"/>
<path d="M319.3,601.2H321.2V601.2H322.35V599.81H323.5V598.42H324.65V597.03H325.8V595.64H326.95V594.25H328.1V592.86H329.25V591.47H330.4V590.08H331.55V588.69H332.7V587.3H333.85V585.91H335V584.52H336.15V583.13H337.3V581.74H338.45V580.35H340.5V579.7H342.9V578.9H343.7V578.2H359.6V575.1H364.2V573H384.5V569.8H395.5V566.8H430.5V563.8H437.5V560.6H488" fill="none" stroke="#c8102e" stroke-width="1.3"/>
<path d="M458.8,533.8V530.6M460.5,533.8V530.6M462.5,533.8V530.6M465,533.8V530.6M467.5,533.8V530.6M470,533.8V530.6" fill="none" stroke="#13508a" stroke-width="0.9"/>
<path d="M327.3,594.25V591.65" fill="none" stroke="#c8102e" stroke-width="0.9"/>
<path d="M331.6,588.69V586.09" fill="none" stroke="#c8102e" stroke-width="0.9"/>
<path d="M342,579.7V577.1" fill="none" stroke="#c8102e" stroke-width="0.9"/>
<path d="M389.5,569.8V566.6" fill="none" stroke="#c8102e" stroke-width="0.9"/>
<path d="M420.5,566.8V563.6" fill="none" stroke="#c8102e" stroke-width="0.9"/>
<path d="M443,560.6V557.4M456.3,560.6V557.4M462,560.6V557.4M470,560.6V557.4M471.2,560.6V557.4M472.5,560.6V557.4M475,560.6V557.4M477.5,560.6V557.4M487.5,560.6V557.4" fill="none" stroke="#c8102e" stroke-width="0.9"/>
</svg></div></body></html>
